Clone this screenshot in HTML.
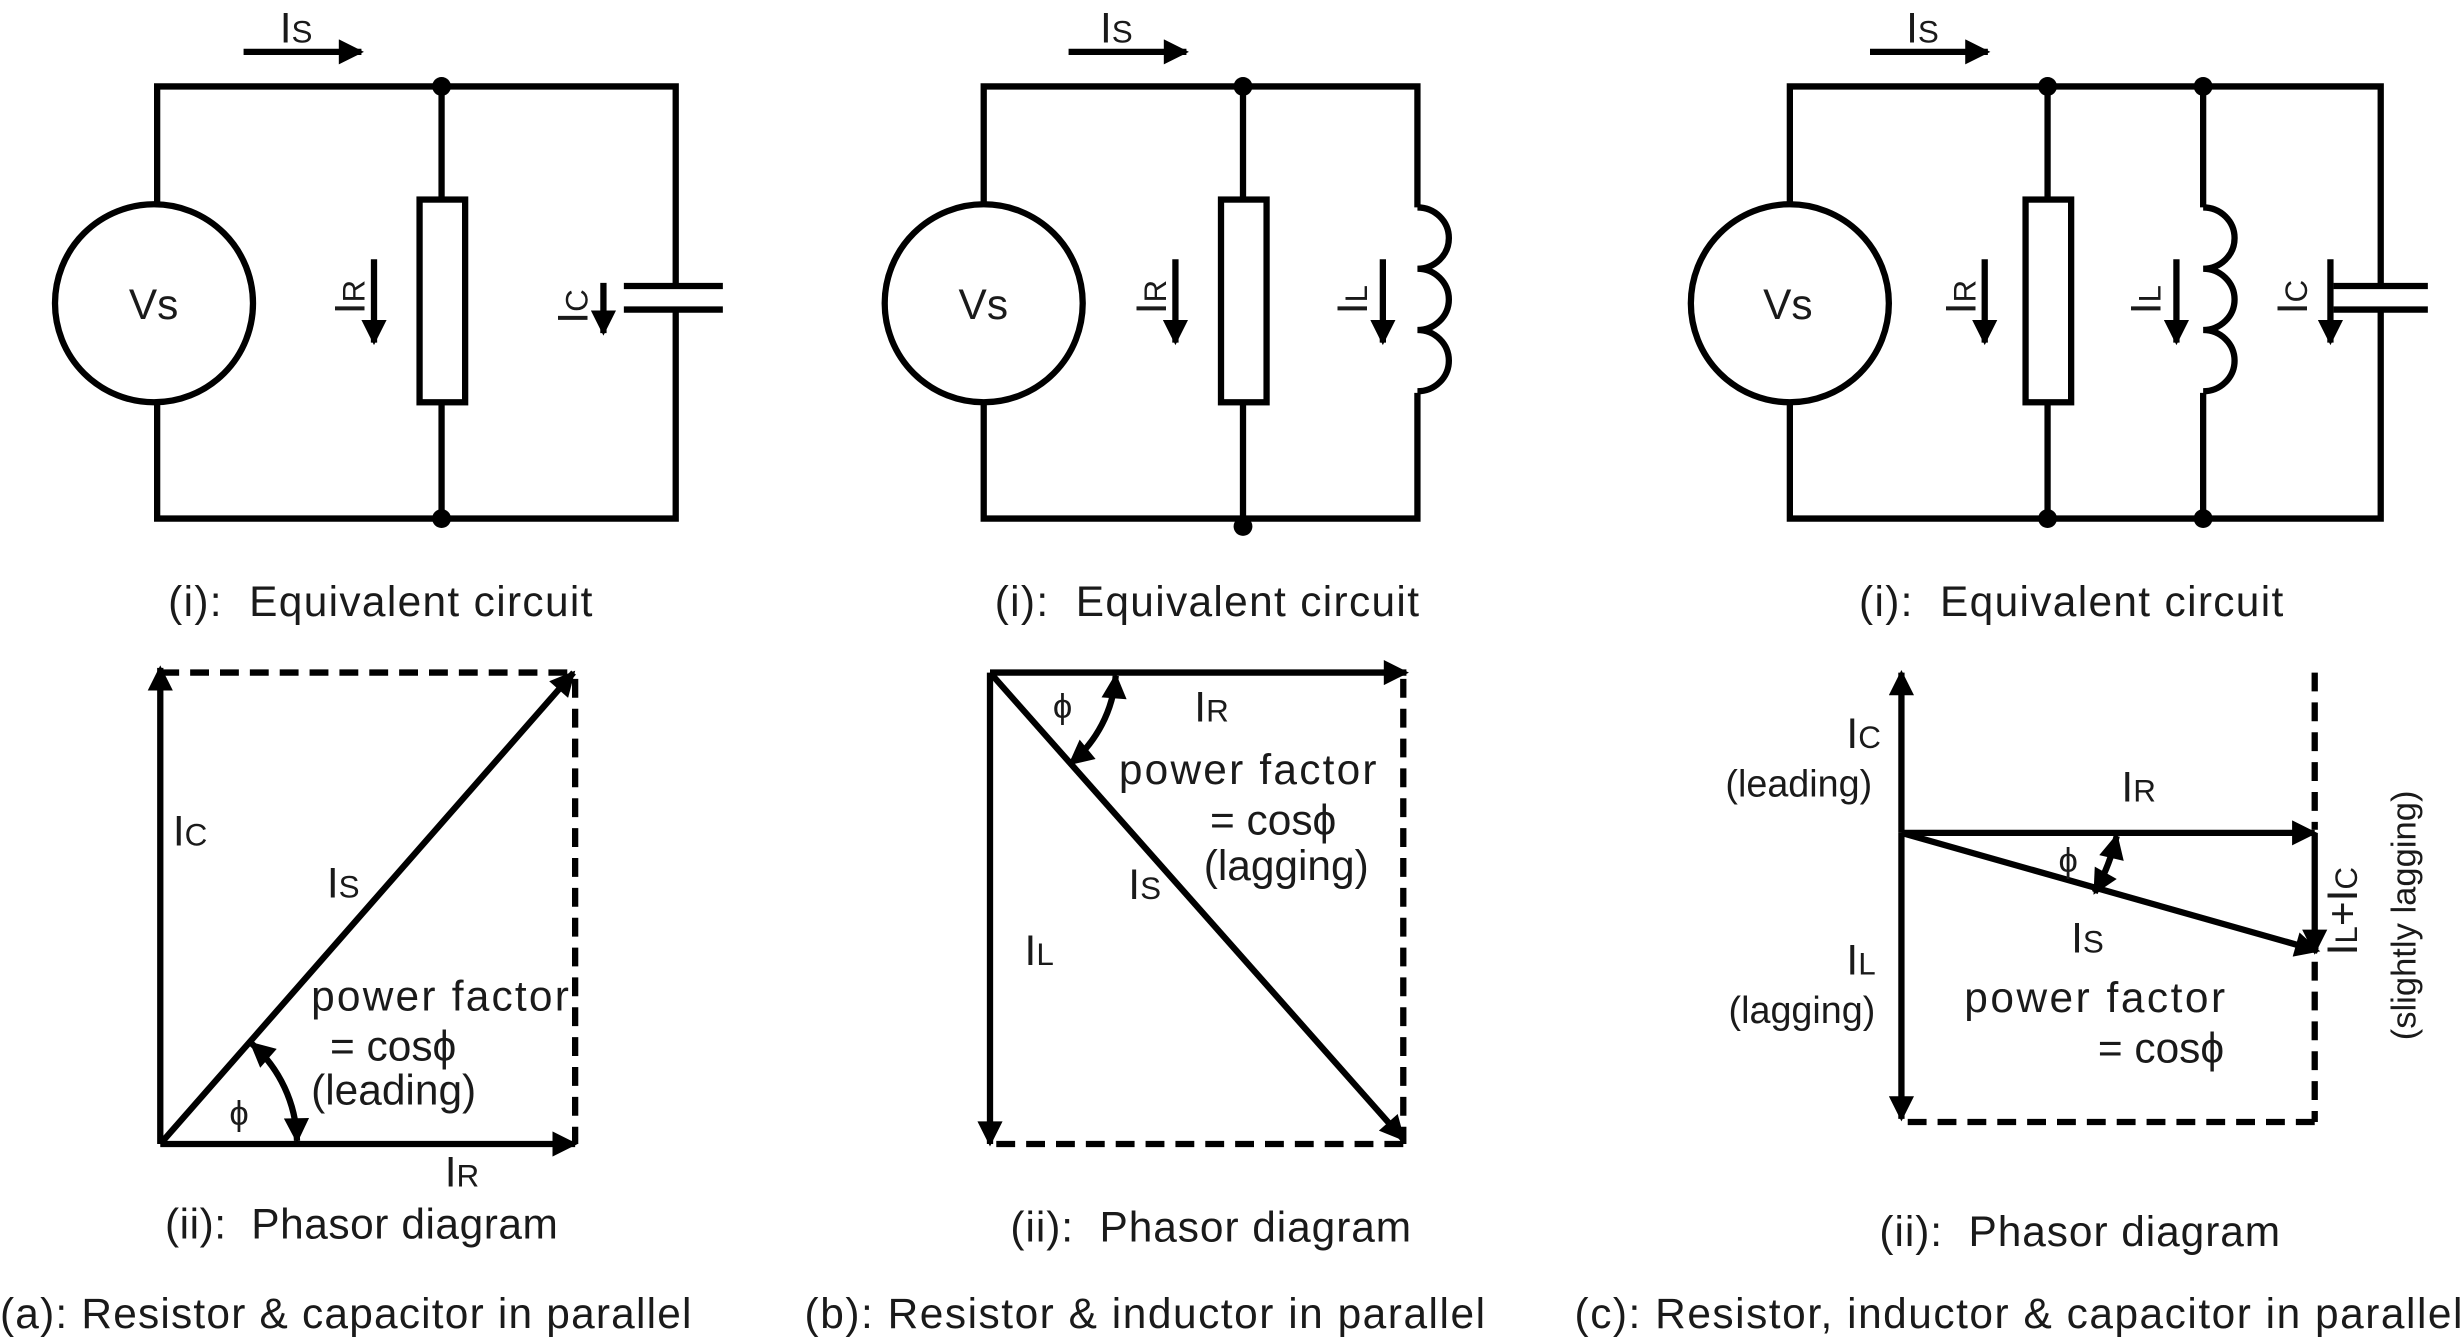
<!DOCTYPE html>
<html><head><meta charset="utf-8"><style>
html,body{margin:0;padding:0;background:#fff}
svg{display:block}
text{font-family:"Liberation Sans",sans-serif;fill:#1a1a1a;white-space:pre}
</style></head><body>
<svg width="2464" height="1342" viewBox="0 0 1568 854" preserveAspectRatio="none" xmlns="http://www.w3.org/2000/svg">
<defs>
<marker id="a2" viewBox="0 0 10 10" refX="9" refY="5" markerWidth="20" markerHeight="16" markerUnits="userSpaceOnUse" orient="auto">
<path d="M0,0 L10,5 L0,10 z" fill="#000"/></marker>
<marker id="a3" viewBox="0 0 10 10" refX="1" refY="5" markerWidth="20" markerHeight="16" markerUnits="userSpaceOnUse" orient="auto">
<path d="M10,0 L0,5 L10,10 z" fill="#000"/></marker>
</defs>
<g stroke="#000" stroke-width="4" fill="none">
<path d="M100,130 V55 H430 V182 M100,256 V330 H430 V197"/>
<circle cx="98" cy="193" r="63"/>
<path d="M281,55 V127 M281,256 V330"/>
<rect x="267" y="127" width="29" height="129"/>
<path d="M397,182 H460 M397,197 H460"/>
<path d="M626,130 V55 H902 V132 M626,256 V330 H902 V250"/>
<circle cx="626" cy="193" r="63"/>
<path d="M791,55 V127 M791,256 V330"/>
<rect x="777" y="127" width="29" height="129"/>
<path d="M902,132 a20,19.5 0 0 1 0,39 a20,19.5 0 0 1 0,39 a20,19.5 0 0 1 0,39"/>
<path d="M1139,130 V55 H1515 V182 M1139,256 V330 H1515 V197"/>
<circle cx="1139" cy="193" r="63"/>
<path d="M1303,55 V127 M1303,256 V330"/>
<rect x="1289" y="127" width="29" height="129"/>
<path d="M1402,55 V132 M1402,250 V330"/>
<path d="M1402,132 a20,19.5 0 0 1 0,39 a20,19.5 0 0 1 0,39 a20,19.5 0 0 1 0,39"/>
<path d="M1485,182 H1545 M1485,197 H1545"/>
</g>
<g stroke="#000" stroke-width="4" fill="none" marker-end="url(#a2)">
<path d="M155,33 H230"/><path d="M680,33 H755"/><path d="M1190,33 H1265"/>
<path d="M238,165 V218"/><path d="M384,180 V212"/><path d="M748,165 V218"/><path d="M880,165 V218"/>
<path d="M1263,165 V218"/><path d="M1385,165 V218"/><path d="M1483,165 V218"/>
<path d="M102,728 V425"/><path d="M102,728 H366"/><path d="M102,728 L365,428"/>
<path d="M630,428 H895"/><path d="M630,428 V728"/><path d="M630,428 L893,725"/>
<path d="M1210,530 V428"/><path d="M1210,530 V712"/><path d="M1210,530 H1473"/><path d="M1210,530 L1475,605"/><path d="M1473,530 V606"/>
</g>
<g stroke="#000" stroke-width="4" fill="none">
<path d="M102,428 H362 M366,432 V728" stroke-dasharray="12,7"/>
<path d="M634,728 H893 M893,432 V728" stroke-dasharray="12,7"/>
<path d="M1473,428 V528 M1473,612 V714 M1214,714 H1473" stroke-dasharray="12,7"/>
<path d="M160,664 A85,85 0 0 1 189,726" marker-start="url(#a3)" marker-end="url(#a2)"/>
<path d="M710,430 A80,80 0 0 1 681,486" marker-start="url(#a3)" marker-end="url(#a2)"/>
<path d="M1347,532 A140,140 0 0 1 1333,568" marker-start="url(#a3)" marker-end="url(#a2)"/>
</g>
<g fill="#000">
<circle cx="281" cy="55" r="6"/><circle cx="281" cy="330" r="6"/>
<circle cx="791" cy="55" r="6"/><circle cx="791" cy="335" r="6"/>
<circle cx="1303" cy="55" r="6"/><circle cx="1402" cy="55" r="6"/>
<circle cx="1303" cy="330" r="6"/><circle cx="1402" cy="330" r="6"/>
</g>
<g font-size="27">
<text x="82" y="203">Vs</text><text x="610" y="203">Vs</text><text x="1122" y="203">Vs</text>
<text x="178" y="27">I<tspan font-size="20">S</tspan></text>
<text x="700" y="27">I<tspan font-size="20">S</tspan></text>
<text x="1213" y="27">I<tspan font-size="20">S</tspan></text>
<text transform="translate(232,200) rotate(-90)">I<tspan font-size="20">R</tspan></text>
<text transform="translate(374,206) rotate(-90)">I<tspan font-size="20">C</tspan></text>
<text transform="translate(742,200) rotate(-90)">I<tspan font-size="20">R</tspan></text>
<text transform="translate(870,200) rotate(-90)">I<tspan font-size="20">L</tspan></text>
<text transform="translate(1257,200) rotate(-90)">I<tspan font-size="20">R</tspan></text>
<text transform="translate(1375,200) rotate(-90)">I<tspan font-size="20">L</tspan></text>
<text transform="translate(1468,200) rotate(-90)">I<tspan font-size="20">C</tspan></text>
<text x="107" y="392" textLength="270">(i):  Equivalent circuit</text>
<text x="633" y="392" textLength="270">(i):  Equivalent circuit</text>
<text x="1183" y="392" textLength="270">(i):  Equivalent circuit</text>
<text x="105" y="788" textLength="250">(ii):  Phasor diagram</text>
<text x="643" y="790" textLength="255">(ii):  Phasor diagram</text>
<text x="1196" y="793" textLength="255">(ii):  Phasor diagram</text>
<text x="0" y="845" textLength="440">(a): Resistor &amp; capacitor in parallel</text>
<text x="512" y="845" textLength="433">(b): Resistor &amp; inductor in parallel</text>
<text x="1002" y="845" textLength="565">(c): Resistor, inductor &amp; capacitor in parallel</text>
<text x="110" y="538">I<tspan font-size="20">C</tspan></text>
<text x="208" y="571">I<tspan font-size="20">S</tspan></text>
<text x="198" y="643" textLength="164">power factor</text>
<text x="210" y="675">= cosϕ</text>
<text x="198" y="703">(leading)</text>
<text x="146" y="716" font-size="22">ϕ</text>
<text x="283" y="755">I<tspan font-size="20">R</tspan></text>
<text x="670" y="457" font-size="22">ϕ</text>
<text x="760" y="459">I<tspan font-size="20">R</tspan></text>
<text x="712" y="499" textLength="164">power factor</text>
<text x="770" y="531">= cosϕ</text>
<text x="766" y="560">(lagging)</text>
<text x="718" y="572">I<tspan font-size="20">S</tspan></text>
<text x="652" y="614">I<tspan font-size="20">L</tspan></text>
<text x="1175" y="476">I<tspan font-size="20">C</tspan></text>
<text x="1098" y="507" font-size="24">(leading)</text>
<text x="1350" y="510">I<tspan font-size="20">R</tspan></text>
<text x="1310" y="555" font-size="22">ϕ</text>
<text x="1318" y="606">I<tspan font-size="20">S</tspan></text>
<text x="1175" y="620">I<tspan font-size="20">L</tspan></text>
<text x="1100" y="651" font-size="24">(lagging)</text>
<text x="1250" y="644" textLength="166">power factor</text>
<text x="1335" y="676">= cosϕ</text>
<text transform="translate(1500,608) rotate(-90)">I<tspan font-size="20">L</tspan>+I<tspan font-size="20">C</tspan></text>
<text transform="translate(1537,662) rotate(-90)" font-size="22">(slightly lagging)</text>
</g>
</svg>
</body></html>
